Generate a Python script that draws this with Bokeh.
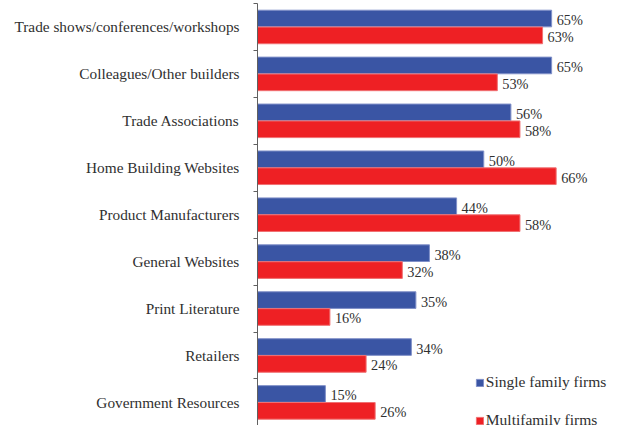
from bokeh.plotting import figure
from bokeh.models import (ColumnDataSource, Range1d, FixedTicker, Legend, LegendItem)
from bokeh.core.properties import value
from bokeh.embed import file_html
from bokeh.resources import INLINE

categories = [
    "Trade shows/conferences/workshops",
    "Colleagues/Other builders",
    "Trade Associations",
    "Home Building Websites",
    "Product Manufacturers",
    "General Websites",
    "Print Literature",
    "Retailers",
    "Government Resources",
]
single_family = [65, 65, 56, 50, 44, 38, 35, 34, 15]
multifamily = [63, 53, 58, 66, 58, 32, 16, 24, 26]
series_names = ["Single family firms", "Multifamily firms"]

BLUE = "#3A55A4"
RED = "#EE2024"
FONT = "Liberation Serif"

idx = list(range(len(categories)))
src_b = ColumnDataSource(dict(
    y=[i - 0.18 for i in idx], v=single_family,
    lbl=[f"{v}%" for v in single_family]))
src_r = ColumnDataSource(dict(
    y=[i + 0.18 for i in idx], v=multifamily,
    lbl=[f"{v}%" for v in multifamily]))

p = figure(width=617, height=425, output_backend="svg", toolbar_location=None,
           x_range=Range1d(0, 360 / 4.525),
           y_range=Range1d(8.492, -0.5),
           min_border_left=257, min_border_right=0,
           min_border_top=3, min_border_bottom=0)
p.outline_line_color = None
p.xgrid.visible = False
p.ygrid.visible = False
p.xaxis.visible = False

rb = p.hbar(y="y", right="v", left=0, height=0.355, source=src_b,
            fill_color=BLUE, line_color="#8090c8", line_width=1)
rr = p.hbar(y="y", right="v", left=0, height=0.355, source=src_r,
            fill_color=RED, line_color="#f07072", line_width=1)

for s in (src_b, src_r):
    p.text(x="v", y="y", text="lbl", source=s, x_offset=5, y_offset=1.5,
           text_font=value(FONT), text_font_size="14.3px",
           text_color="#303030", text_baseline="middle", text_align="left")

ax = p.yaxis[0]
ax.ticker = FixedTicker(ticks=idx, minor_ticks=[i + 0.5 for i in range(-1, len(categories))])
ax.major_label_overrides = {i: c for i, c in zip(idx, categories)}
ax.major_tick_line_color = None
ax.major_tick_in = 0
ax.major_tick_out = 0
ax.minor_tick_in = 0
ax.minor_tick_out = 4
ax.minor_tick_line_color = "#606060"
ax.axis_line_color = "#606060"
ax.major_label_standoff = 14
ax.major_label_text_font = FONT
ax.major_label_text_font_size = "15.3px"
ax.major_label_text_color = "#303030"

legend = Legend(items=[LegendItem(label=series_names[0], renderers=[rb]),
                       LegendItem(label=series_names[1], renderers=[rr])],
                location=(217.8, -5), orientation="vertical",
                glyph_width=9, glyph_height=9, label_standoff=2,
                label_height=20, spacing=18, padding=0, margin=0,
                background_fill_alpha=0, border_line_color=None,
                label_text_font=FONT, label_text_font_size="15.5px",
                label_text_color="#303030")
p.add_layout(legend)

open("out.html", "w").write(file_html(p, INLINE))
